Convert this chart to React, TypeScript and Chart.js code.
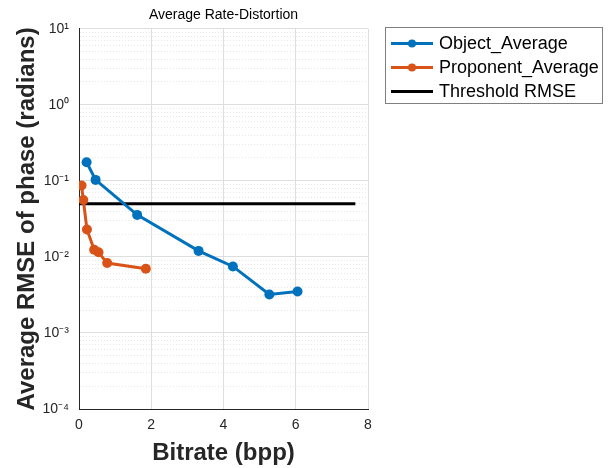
import React, { useEffect, useRef } from "react";
import { Chart, registerables } from "chart.js";
Chart.register(...registerables);

const chartTitle = "Average Rate-Distortion";
const xAxisTitle = "Bitrate (bpp)";
const yAxisTitle = "Average RMSE of phase (radians)";
const seriesLabels = ["Object_Average", "Proponent_Average", "Threshold RMSE"];
const objectBitrate = [0.21, 0.46, 1.61, 3.31, 4.26, 5.27, 6.05];
const objectRmse = [0.176, 0.103, 0.0357, 0.012, 0.0075, 0.0032, 0.0035];
const proponentBitrate = [0.07, 0.12, 0.22, 0.42, 0.54, 0.78, 1.85];
const proponentRmse = [0.087, 0.056, 0.023, 0.0124, 0.0115, 0.0083, 0.007];
const thresholdBitrate = [0, 7.65];
const thresholdRmse = [0.05, 0.05];
const xTickValues = [0, 2, 4, 6, 8];
const yDecadeExponents = [-4, -3, -2, -1, 0, 1];

const colors = ["#0072BD", "#D95319", "#000000"];
const FONT = "'Liberation Sans', Arial, Helvetica, sans-serif";

const sup: Record<string, string> = {
  "0": "⁰", "1": "¹", "2": "²", "3": "³", "4": "⁴", "5": "⁵",
  "6": "⁶", "7": "⁷", "8": "⁸", "9": "⁹", "-": "⁻",
};
const toSup = (n: number) => String(n).split("").map((c) => sup[c] || c).join("");
const isDecade = (v: number) => {
  const l = Math.log10(v);
  return Math.abs(l - Math.round(l)) < 1e-6;
};

const legendPlugin = {
  id: "boxLegend",
  afterDraw(chart: any) {
    const ctx = chart.ctx as CanvasRenderingContext2D;
    const x0 = 385.5, y0 = 27.5, w = 217, h = 76;
    ctx.save();
    ctx.fillStyle = "#ffffff";
    ctx.fillRect(x0, y0, w, h);
    ctx.strokeStyle = "#808080";
    ctx.lineWidth = 1;
    ctx.strokeRect(x0, y0, w, h);
    const rows = [43.5, 67.5, 91.5];
    chart.data.datasets.forEach((ds: any, i: number) => {
      const y = rows[i];
      ctx.strokeStyle = colors[i];
      ctx.lineWidth = 3;
      ctx.beginPath();
      ctx.moveTo(391, y);
      ctx.lineTo(433, y);
      ctx.stroke();
      if (i < 2) {
        ctx.fillStyle = colors[i];
        ctx.beginPath();
        ctx.arc(412, y, 4, 0, Math.PI * 2);
        ctx.fill();
      }
      ctx.fillStyle = "#000000";
      ctx.font = `18px ${FONT}`;
      ctx.textBaseline = "middle";
      ctx.textAlign = "left";
      ctx.fillText(ds.label, 439, y + 1);
    });
    ctx.restore();
  },
};

export default function App() {
  const ref = useRef<HTMLCanvasElement>(null);
  useEffect(() => {
    if (!ref.current) return;
    const toPts = (xs: number[], ys: number[]) => xs.map((x, i) => ({ x, y: ys[i] }));
    const chart = new Chart(ref.current, {
      type: "line",
      data: {
        datasets: [
          {
            label: seriesLabels[0],
            data: toPts(objectBitrate, objectRmse),
            borderColor: colors[0],
            backgroundColor: colors[0],
            borderWidth: 3,
            pointRadius: 5,
            pointBorderWidth: 0,
          },
          {
            label: seriesLabels[1],
            data: toPts(proponentBitrate, proponentRmse),
            borderColor: colors[1],
            backgroundColor: colors[1],
            borderWidth: 3,
            pointRadius: 5,
            pointBorderWidth: 0,
          },
          {
            label: seriesLabels[2],
            data: toPts(thresholdBitrate, thresholdRmse),
            borderColor: colors[2],
            backgroundColor: colors[2],
            borderWidth: 3,
            pointRadius: 0,
          },
        ],
      },
      options: {
        responsive: false,
        animation: false,
        devicePixelRatio: 1,
        layout: { padding: { left: 0, right: 245, top: 1, bottom: 0 } },
        plugins: {
          legend: { display: false },
          tooltip: { enabled: false },
          title: {
            display: true,
            text: chartTitle,
            fullSize: false,
            color: "#000000",
            font: { family: FONT, size: 14, weight: "normal" },
            padding: { top: 6, bottom: 5 },
          },
        },
        scales: {
          x: {
            type: "linear",
            min: 0,
            max: 8,
            afterBuildTicks: (s: any) => {
              s.ticks = xTickValues.map((v) => ({ value: v }));
            },
            afterFit: (s: any) => {
              s.height = 59;
            },
            ticks: {
              color: "#262626",
              font: { family: FONT, size: 14 },
              padding: 8,
              maxRotation: 0,
            },
            grid: { color: "#dedede", drawTicks: false, lineWidth: 1 },
            border: { display: true, color: "#262626", width: 1 },
            title: {
              display: true,
              text: xAxisTitle,
              color: "#262626",
              font: { family: FONT, size: 24, weight: "bold" },
              padding: { top: 4, bottom: 0 },
            },
          },
          y: {
            type: "logarithmic",
            min: 1e-4,
            max: 10,
            afterBuildTicks: (s: any) => {
              const t: any[] = [];
              yDecadeExponents.forEach((e) => {
                if (e === yDecadeExponents[yDecadeExponents.length - 1]) {
                  t.push({ value: Math.pow(10, e) });
                } else {
                  for (let m = 1; m <= 9; m++) t.push({ value: m * Math.pow(10, e) });
                }
              });
              s.ticks = t;
            },
            afterFit: (s: any) => {
              s.width = 79;
            },
            ticks: {
              autoSkip: false,
              color: "#262626",
              font: { family: FONT, size: 14 },
              padding: 10,
              callback: (v: any) => {
                const n = Number(v);
                return isDecade(n) ? "10" + toSup(Math.round(Math.log10(n))) : "";
              },
            },
            grid: {
              drawTicks: false,
              color: (c: any) => (c.tick && isDecade(c.tick.value) ? "#dedede" : "#e8e8e8"),
              lineWidth: 1,
            },
            border: {
              display: true,
              color: "#262626",
              width: 1,
              dash: (c: any) => (c.tick && !isDecade(c.tick.value) ? [1, 2] : []),
            },
            title: {
              display: true,
              text: yAxisTitle,
              color: "#262626",
              font: { family: FONT, size: 24, weight: "bold" },
              padding: { top: 13, bottom: 0 },
            },
          },
        },
      },
      plugins: [legendPlugin],
    } as any);
    return () => chart.destroy();
  }, []);
  return (
    <div style={{ position: "absolute", left: 0, top: 0, width: 613, height: 468, background: "#fff" }}>
      <canvas ref={ref} width={613} height={468} />
    </div>
  );
}
